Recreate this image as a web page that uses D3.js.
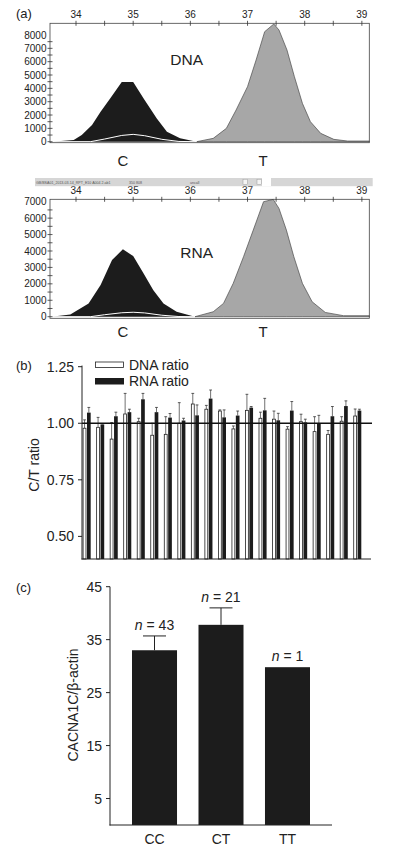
<!DOCTYPE html>
<html><head><meta charset="utf-8">
<script src="https://cdn.jsdelivr.net/npm/d3@7"></script>
<style>body{margin:0;background:#fff}svg{display:block}</style>
</head><body>
<svg id="c" width="400" height="853"></svg>
<script>
// ---------- DATA ----------
// Panel (a): chromatogram traces [position, intensity]
const positionTicks = [34, 35, 36, 37, 38, 39];
const dnaYTicks = [0,1000,2000,3000,4000,5000,6000,7000,8000];
const rnaYTicks = [0,1000,2000,3000,4000,5000,6000,7000];
const dnaC = [[33.57,0],[33.96,125],[34.1,500],[34.28,1250],[34.43,2250],[34.6,3250],[34.8,4480],[35.0,4480],[35.18,3250],[35.41,1750],[35.59,750],[35.82,250],[36.11,0]];
const dnaCwhite = [[33.57,0],[34.25,0],[34.5,200],[34.8,470],[35.0,550],[35.2,450],[35.5,180],[35.8,20],[36.11,0]];
const dnaT = [[36.11,0],[36.4,250],[36.63,1000],[36.8,2375],[37.0,4125],[37.15,6125],[37.3,8250],[37.46,8825],[37.55,8375],[37.69,6875],[37.82,4875],[37.96,2875],[38.1,1500],[38.28,625],[38.51,175],[38.75,50],[39.13,50]];
const rnaC = [[33.57,0],[33.9,140],[34.22,810],[34.43,1925],[34.63,3450],[34.82,4100],[35.0,3690],[35.18,2640],[35.35,1620],[35.53,810],[35.76,300],[36.08,0]];
const rnaCwhite = [[33.57,0],[34.25,0],[34.5,120],[34.8,240],[35.0,270],[35.2,230],[35.5,90],[35.8,10],[36.08,0]];
const rnaT = [[36.08,0],[36.4,300],[36.58,810],[36.75,2030],[36.93,3650],[37.1,5270],[37.28,7000],[37.45,7140],[37.55,6590],[37.68,5270],[37.81,3650],[37.96,2030],[38.13,910],[38.36,260],[38.68,60],[39.13,60]];

// Panel (b): C/T ratios per sample
const samples = d3.range(1, 22);
const dnaRatio = [0.978,0.982,0.930,1.041,1.007,0.947,0.951,1.000,1.085,1.062,1.054,0.975,1.057,1.022,1.018,0.974,1.007,0.963,0.951,1.009,1.032];
const dnaErr   = [0.037,0.044,0.073,0.091,0.015,0.053,0.078,0.091,0.047,0.017,0.005,0.013,0.071,0.027,0.036,0.011,0.033,0.066,0.017,0.020,0.031];
const rnaRatio = [1.047,0.995,1.031,1.049,1.106,1.049,1.025,1.012,1.035,1.109,1.026,1.034,1.069,1.057,1.013,1.056,1.004,1.000,1.031,1.076,1.056];
const rnaErr   = [0.023,0.004,0.018,0.013,0.026,0.021,0.018,0.010,0.046,0.038,0.033,0.020,0.005,0.053,0.031,0.040,0.014,0.035,0.043,0.023,0.006];
const ratioTicks = [0.50, 0.75, 1.00, 1.25];

// Panel (c): expression by genotype
const genotypes = ["CC","CT","TT"];
const expr = [33.0, 37.8, 29.8];
const exprErr = [2.7, 3.2, 0];
const nLabels = ["43","21","1"];
const exprTicks = [5, 15, 25, 35, 45];

// ---------- DRAW ----------
const FONT = "'Liberation Sans', Arial, Helvetica, sans-serif";
const svg = d3.select("#c").attr("font-family", FONT);

function chromatogram(opt) {
  const g = svg.append("g");
  const x = d3.scaleLinear().domain([33.545, 39.13]).range([50, 369.3]);
  const y = d3.scaleLinear().domain([0, opt.yTop]).range([opt.y0, opt.yTopPx]);
  const top = opt.frameTop, bottom = opt.frameBottom;
  const area = d3.area().x(d => x(d[0])).y0(y(0)).y1(d => y(d[1])).curve(d3.curveLinear);
  const line = d3.line().x(d => x(d[0])).y(d => y(d[1]));
  g.append("path").datum(opt.T).attr("d", area).attr("fill", "#a7a7a7").attr("stroke", "#4a4a4a").attr("stroke-width", 0.7);
  g.append("path").datum(opt.C).attr("d", area).attr("fill", "#1c1c1c");
  g.append("path").datum(opt.Cw).attr("d", line).attr("fill", "none").attr("stroke", "#fff").attr("stroke-width", 1);
  // frame
  g.append("rect").attr("x", 50).attr("y", top).attr("width", 319.3).attr("height", bottom - top)
    .attr("fill", "none").attr("stroke", "#444").attr("stroke-width", 0.8);
  // top axis
  const halfTicks = d3.range(33.5, 39.5, 0.5).filter(v => x(v) >= 50 && x(v) <= 369.3);
  g.selectAll(".tx").data(halfTicks).enter().append("line")
    .attr("x1", d => x(d)).attr("x2", d => x(d)).attr("y1", top - 2.5).attr("y2", top + 2.5)
    .attr("stroke", "#333").attr("stroke-width", 0.8);
  g.selectAll(".tl").data(positionTicks).enter().append("text")
    .attr("x", d => x(d)).attr("y", top - 5).attr("text-anchor", "middle")
    .attr("font-size", 10).attr("fill", "#222").text(d => d);
  // left axis
  const minor = d3.range(0, opt.yTop, 500).filter(v => y(v) >= top);
  g.selectAll(".ty").data(minor).enter().append("line")
    .attr("x1", 47.5).attr("x2", 52.5).attr("y1", d => y(d)).attr("y2", d => y(d))
    .attr("stroke", "#333").attr("stroke-width", 0.8);
  g.selectAll(".yl").data(opt.yTicks).enter().append("text")
    .attr("x", 46.5).attr("y", d => y(d) + 3.6).attr("text-anchor", "end")
    .attr("font-size", 10).attr("fill", "#222").text(d => d);
  g.append("text").attr("x", opt.labelX).attr("y", opt.labelY).attr("text-anchor", "middle")
    .attr("font-size", 15.5).attr("fill", "#222").text(opt.label);
  g.append("text").attr("x", 123).attr("y", opt.ctY).attr("text-anchor", "middle").attr("font-size", 15).attr("fill", "#222").text("C");
  g.append("text").attr("x", 263).attr("y", opt.ctY).attr("text-anchor", "middle").attr("font-size", 15).attr("fill", "#222").text("T");
}

svg.append("text").attr("x", 16).attr("y", 18).attr("font-size", 13).attr("fill", "#222").text("(a)");
chromatogram({C: dnaC, Cw: dnaCwhite, T: dnaT, yTop: 8000, y0: 141.7, yTopPx: 35, frameTop: 23.3, frameBottom: 142.7,
  yTicks: dnaYTicks, label: "DNA", labelX: 186.7, labelY: 65, ctY: 166});
chromatogram({C: rnaC, Cw: rnaCwhite, T: rnaT, yTop: 7000, y0: 316.7, yTopPx: 201.7, frameTop: 199.3, frameBottom: 318.3,
  yTicks: rnaYTicks, label: "RNA", labelX: 196.7, labelY: 258, ctY: 337});

// grey strip between traces
const strip = svg.append("g");
strip.append("rect").attr("x", 35).attr("y", 178).attr("width", 337.7).attr("height", 8.2).attr("fill", "#d6d6d6");
strip.append("rect").attr("x", 262).attr("y", 178).attr("width", 9).attr("height", 8.2).attr("fill", "#fff");
[243, 257].forEach(px => strip.append("rect").attr("x", px).attr("y", 179.2).attr("width", 4.5).attr("height", 5.5)
  .attr("fill", "#f4f4f4").attr("stroke", "#999").attr("stroke-width", 0.5));
[["GB/BSA01_2013-03-14_RPT_E10 A004 2.ab1", 36], ["350 808", 129], ["uncall", 190]].forEach(t =>
  strip.append("text").attr("x", t[1]).attr("y", 183.6).attr("font-size", 3.6).attr("fill", "#555").text(t[0]));

// ---------- Panel (b) ----------
const gb = svg.append("g");
const yb = d3.scaleLinear().domain([0.4, 1.25]).range([559, 366.7]);
const xb = d3.scaleBand().domain(samples).range([82.7, 361.3]).paddingInner(0.41).paddingOuter(0);
const xs = d3.scaleBand().domain(["DNA", "RNA"]).range([0, xb.bandwidth()]).paddingInner(0.14);
const rows = samples.map((s, i) => [
  {s, k: "DNA", v: dnaRatio[i], e: dnaErr[i]},
  {s, k: "RNA", v: rnaRatio[i], e: rnaErr[i]}]).flat();
gb.selectAll(".eb").data(rows).enter().append("g").each(function(d) {
  const cx = xb(d.s) + xs(d.k) + xs.bandwidth() / 2;
  const g = d3.select(this);
  g.append("line").attr("x1", cx).attr("x2", cx).attr("y1", yb(d.v)).attr("y2", yb(d.v + d.e)).attr("stroke", "#333").attr("stroke-width", 0.7);
  g.append("line").attr("x1", cx - 1.4).attr("x2", cx + 1.4).attr("y1", yb(d.v + d.e)).attr("y2", yb(d.v + d.e)).attr("stroke", "#333").attr("stroke-width", 0.8);
});
gb.selectAll(".bar").data(rows).enter().append("rect")
  .attr("x", d => xb(d.s) + xs(d.k) + (d.k === "DNA" ? 0.4 : 0))
  .attr("width", d => xs.bandwidth() - (d.k === "DNA" ? 0.8 : 0))
  .attr("y", d => yb(d.v)).attr("height", d => yb(0.4) - yb(d.v))
  .attr("fill", d => d.k === "DNA" ? "#fff" : "#1c1c1c")
  .attr("stroke", d => d.k === "DNA" ? "#222" : "none").attr("stroke-width", 0.8);
// reference line
gb.append("line").attr("x1", 82).attr("x2", 372).attr("y1", yb(1)).attr("y2", yb(1)).attr("stroke", "#111").attr("stroke-width", 1.6);
// axes
gb.append("line").attr("x1", 82).attr("x2", 82).attr("y1", yb(1.255)).attr("y2", 559.5).attr("stroke", "#222").attr("stroke-width", 1);
gb.append("line").attr("x1", 81.5).attr("x2", 371).attr("y1", 559).attr("y2", 559).attr("stroke", "#222").attr("stroke-width", 1);
gb.selectAll(".ytk").data(ratioTicks).enter().append("line")
  .attr("x1", 78).attr("x2", 82).attr("y1", d => yb(d)).attr("y2", d => yb(d)).attr("stroke", "#222").attr("stroke-width", 1);
gb.selectAll(".ytl").data(ratioTicks).enter().append("text")
  .attr("x", 74).attr("y", d => yb(d) + 5).attr("text-anchor", "end").attr("font-size", 14).attr("fill", "#222")
  .text(d => d3.format(".2f")(d));
gb.append("text").attr("transform", "translate(39,465) rotate(-90)").attr("text-anchor", "middle")
  .attr("font-size", 14).attr("fill", "#222").text("C/T ratio");
svg.append("text").attr("x", 16).attr("y", 370).attr("font-size", 13).attr("fill", "#222").text("(b)");
// legend
const lg = gb.append("g");
lg.append("rect").attr("x", 95.5).attr("y", 362).attr("width", 28).attr("height", 5.5).attr("fill", "#fff").attr("stroke", "#222").attr("stroke-width", 0.8);
lg.append("rect").attr("x", 95).attr("y", 378).attr("width", 29).attr("height", 6.5).attr("fill", "#1c1c1c");
lg.append("text").attr("x", 129).attr("y", 370).attr("font-size", 14).attr("fill", "#222").text("DNA ratio");
lg.append("text").attr("x", 129).attr("y", 386).attr("font-size", 14).attr("fill", "#222").text("RNA ratio");

// ---------- Panel (c) ----------
const gc = svg.append("g");
const yc = d3.scaleLinear().domain([0, 45]).range([825, 586.7]);
const xc = d3.scaleBand().domain(genotypes).range([110, 332]).paddingInner(0.323).paddingOuter(0.331);
gc.selectAll(".cb").data(genotypes).enter().append("rect")
  .attr("x", d => xc(d)).attr("width", xc.bandwidth())
  .attr("y", (d, i) => yc(expr[i])).attr("height", (d, i) => yc(0) - yc(expr[i])).attr("fill", "#1c1c1c");
gc.selectAll(".ce").data(genotypes.filter((d, i) => exprErr[i] > 0)).enter().append("g").each(function(d) {
  const i = genotypes.indexOf(d), cx = xc(d) + xc.bandwidth() / 2;
  const g = d3.select(this);
  g.append("line").attr("x1", cx).attr("x2", cx).attr("y1", yc(expr[i])).attr("y2", yc(expr[i] + exprErr[i])).attr("stroke", "#222").attr("stroke-width", 1);
  g.append("line").attr("x1", cx - 11.5).attr("x2", cx + 11.5).attr("y1", yc(expr[i] + exprErr[i])).attr("y2", yc(expr[i] + exprErr[i])).attr("stroke", "#222").attr("stroke-width", 1);
});
gc.selectAll(".nl").data(genotypes).enter().append("text")
  .attr("x", d => xc(d) + xc.bandwidth() / 2)
  .attr("y", (d, i) => yc(expr[i] + exprErr[i]) - 6)
  .attr("text-anchor", "middle").attr("font-size", 14).attr("fill", "#222")
  .each(function(d, i) {
    const t = d3.select(this);
    t.append("tspan").attr("font-style", "italic").text("n");
    t.append("tspan").text(" = " + nLabels[i]);
  });
gc.append("line").attr("x1", 110).attr("x2", 110).attr("y1", yc(45)).attr("y2", 825.5).attr("stroke", "#222").attr("stroke-width", 1);
gc.append("line").attr("x1", 109.5).attr("x2", 332).attr("y1", 825).attr("y2", 825).attr("stroke", "#222").attr("stroke-width", 1);
gc.selectAll(".ct").data(exprTicks).enter().append("line")
  .attr("x1", 106).attr("x2", 110).attr("y1", d => yc(d)).attr("y2", d => yc(d)).attr("stroke", "#222").attr("stroke-width", 1);
gc.selectAll(".ctl").data(exprTicks).enter().append("text")
  .attr("x", 102).attr("y", d => yc(d) + 5).attr("text-anchor", "end").attr("font-size", 14).attr("fill", "#222").text(d => d);
gc.selectAll(".cxl").data(genotypes).enter().append("text")
  .attr("x", d => xc(d) + xc.bandwidth() / 2).attr("y", 844).attr("text-anchor", "middle")
  .attr("font-size", 14).attr("fill", "#222").text(d => d);
gc.append("text").attr("transform", "translate(78,705) rotate(-90)").attr("text-anchor", "middle")
  .attr("font-size", 14).attr("fill", "#222").text("CACNA1C/β-actin");
svg.append("text").attr("x", 16).attr("y", 592).attr("font-size", 13).attr("fill", "#222").text("(c)");
</script>
</body></html>
